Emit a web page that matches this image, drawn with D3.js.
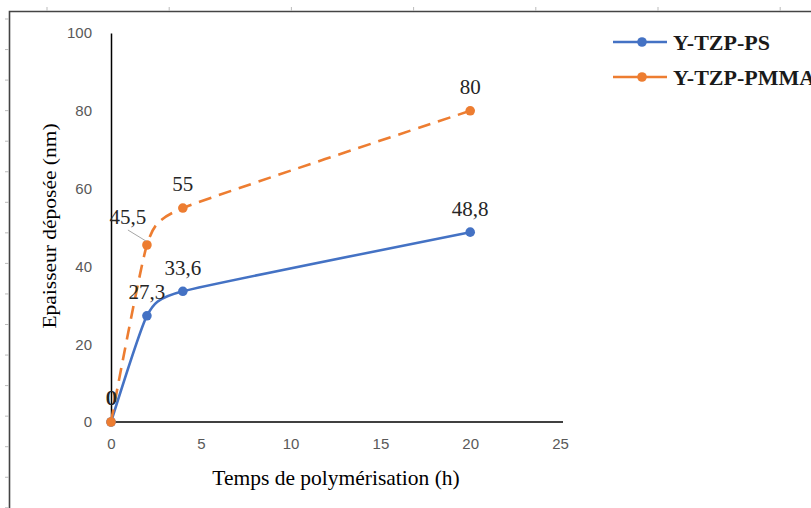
<!DOCTYPE html>
<html><head><meta charset="utf-8">
<script src="https://cdn.jsdelivr.net/npm/d3@7"></script>
<style>body{margin:0;background:#fff}svg{display:block}</style>
</head><body>
<script>
const hours = [0, 2, 4, 20];
const seriesNames = ["Y-TZP-PS", "Y-TZP-PMMA"];
const psValues = [0, 27.3, 33.6, 48.8];
const pmmaValues = [0, 45.5, 55, 80];
const psLabels = ["0", "27,3", "33,6", "48,8"];
const pmmaLabels = ["0", "45,5", "55", "80"];
const xTicks = [0, 5, 10, 15, 20, 25];
const yTicks = [0, 20, 40, 60, 80, 100];
const xTitle = "Temps de polymérisation (h)";
const yTitle = "Epaisseur déposée (nm)";

const W = 811, H = 508;
const svg = d3.select("body").append("svg").attr("width", W).attr("height", H);

// page frame and ruler marks
const frame = svg.append("g");
frame.append("path").attr("d", `M9.5,${H}V11.5H${W}`).attr("fill", "none").attr("stroke", "#444").attr("stroke-width", 1.6);
d3.range(19, H, 30.55).forEach(y => frame.append("line").attr("x1", 5).attr("x2", 9).attr("y1", y).attr("y2", y).attr("stroke", "#bbb"));
d3.range(47, W, 122.2).forEach(x => frame.append("line").attr("x1", x).attr("x2", x).attr("y1", 7).attr("y2", 11).attr("stroke", "#bbb"));

const x = d3.scaleLinear().domain([0, 25]).range([111, 560]);
const y = d3.scaleLinear().domain([0, 100]).range([422, 33]);

// axes
const xAxis = svg.append("g").attr("transform", `translate(0,${y(0)})`)
  .call(d3.axisBottom(x).tickValues(xTicks).tickSize(0).tickPadding(16));
xAxis.select(".domain").attr("stroke", "#000").attr("stroke-width", 1.5).attr("d", `M${x(0)},0H${x(25) + 3}`);
xAxis.selectAll("text").attr("font-family", "Liberation Sans, Arial, sans-serif").attr("font-size", 15).attr("fill", "#595959");

const yAxis = svg.append("g").attr("transform", `translate(${x(0)},0)`)
  .call(d3.axisLeft(y).tickValues(yTicks).tickSize(0).tickPadding(19));
yAxis.select(".domain").attr("stroke", "#000").attr("stroke-width", 1.5);
yAxis.selectAll("text").attr("font-family", "Liberation Sans, Arial, sans-serif").attr("font-size", 15).attr("fill", "#595959");

// titles
svg.append("text").attr("x", 336).attr("y", 477).attr("dy", "0.35em").attr("text-anchor", "middle")
  .attr("font-family", "Liberation Serif, Times New Roman, serif").attr("font-size", 21.5).attr("fill", "#000").text(xTitle);
svg.append("text").attr("transform", "translate(50,226) rotate(-90) scale(1,0.85)").attr("dy", "0.35em").attr("text-anchor", "middle")
  .attr("font-family", "Liberation Serif, Times New Roman, serif").attr("font-size", 21.5).attr("fill", "#000").text(yTitle);

const line = d3.line().x(d => x(d[0])).y(d => y(d[1])).curve(d3.curveCardinal.tension(0.5));

const series = [
  {name: seriesNames[0], vals: psValues, labels: psLabels, color: "#4472C4", dash: null},
  {name: seriesNames[1], vals: pmmaValues, labels: pmmaLabels, color: "#ED7D31", dash: "13,8"}
];

series.forEach(s => {
  const pts = hours.map((h, i) => [h, s.vals[i]]);
  svg.append("path").datum(pts).attr("d", line).attr("fill", "none").attr("stroke", s.color)
    .attr("stroke-width", 2.6).attr("stroke-dasharray", s.dash).attr("stroke-linecap", "butt");
  svg.selectAll(null).data(pts).enter().append("circle")
    .attr("cx", d => x(d[0])).attr("cy", d => y(d[1])).attr("r", 4.8).attr("fill", s.color);
});

// data labels
const serif = "Liberation Serif, Times New Roman, serif";
function label(px, py, txt) {
  svg.append("text").attr("x", px).attr("y", py).attr("dy", "0.35em").attr("text-anchor", "middle")
    .attr("font-family", serif).attr("font-size", 21).attr("fill", "#262626").text(txt);
}
series.forEach((s, si) => {
  hours.forEach((h, i) => {
    let dx = 0, dy = -24;
    if (si === 1 && i === 1) { dx = -19; dy = -28; }
    if (i === 0) { dx = si === 0 ? 0 : 0.8; }
    label(x(h) + dx, y(s.vals[i]) + dy, s.labels[i]);
  });
});
// leader line for 45,5
svg.append("line").attr("x1", x(hours[1]) - 19).attr("y1", y(pmmaValues[1]) - 15)
  .attr("x2", x(hours[1]) - 1).attr("y2", y(pmmaValues[1]) - 4).attr("stroke", "#a6a6a6").attr("stroke-width", 1);

// legend
series.forEach((s, i) => {
  const ly = 42 + i * 35;
  const g = svg.append("g");
  g.append("line").attr("x1", 613).attr("x2", 667).attr("y1", ly).attr("y2", ly).attr("stroke", s.color).attr("stroke-width", 2.6);
  g.append("circle").attr("cx", 642).attr("cy", ly).attr("r", 4.8).attr("fill", s.color);
  g.append("text").attr("x", 673).attr("y", ly).attr("dy", "0.35em").attr("font-family", serif)
    .attr("font-weight", "bold").attr("font-size", 22).attr("fill", "#1a1a1a").text(s.name);
});
</script>
</body></html>
